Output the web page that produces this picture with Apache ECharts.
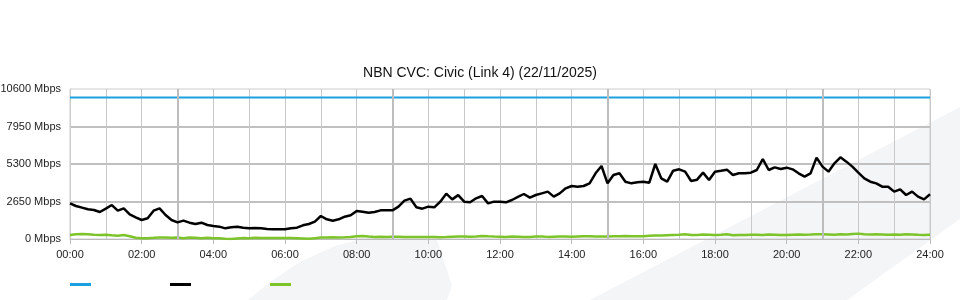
<!DOCTYPE html>
<html>
<head>
<meta charset="utf-8">
<script src="https://cdn.jsdelivr.net/npm/echarts@6/dist/echarts.min.js"></script>
<style>
html,body{margin:0;padding:0;background:#fff;}
#chart{width:960px;height:300px;}
</style>
</head>
<body>
<div id="chart"></div>
<script>
// ---- data ----
const titleText = 'NBN CVC: Civic (Link 4) (22/11/2025)';
const yTicks = [0, 2650, 5300, 7950, 10600];
const capacityMbps = 10000;
// 10-minute samples, 00:00 .. 24:00 (145 points)
const trafficIn = [
  2520, 2332, 2214, 2097, 2050, 1908,
  2144, 2400, 2000, 2167, 1743, 1531,
  1343, 1461, 2003, 2167, 1696, 1343,
  1178, 1296, 1154, 1060, 1154, 989,
  919, 872, 754, 825, 872, 801,
  754, 778, 754, 707, 683, 683,
  683, 754, 801, 966, 1060, 1225,
  1625, 1390, 1296, 1390, 1578, 1673,
  1979, 1932, 1861, 1908, 2026, 2026,
  2026, 2285, 2709, 2851, 2238, 2144,
  2285, 2238, 2638, 3200, 2800, 3100,
  2638, 2591, 2874, 3039, 2520, 2638,
  2638, 2591, 2756, 2970, 3180, 2921,
  3110, 3227, 3345, 2992, 3227, 3581,
  3745, 3698, 3745, 3934, 4641, 5159,
  3934, 4523, 4641, 4051, 3934, 4004,
  4051, 3981, 5300, 4287, 4051, 4829,
  4923, 4759, 4098, 4193, 4688, 4169,
  4759, 4829, 4900, 4523, 4641, 4641,
  4688, 4876, 5650, 4876, 5064, 4947,
  5041, 4923, 4641, 4405, 4640, 5750,
  5112, 4759, 5347, 5770, 5465, 5112,
  4688, 4287, 4051, 3934, 3698, 3698,
  3345, 3510, 3110, 3345, 2992, 2803,
  3157
];
const trafficOut = [
  283, 330, 353, 340, 300, 290,
  300, 260, 236, 280, 200, 90,
  60, 60, 80, 110, 100, 90,
  100, 60, 100, 90, 60, 80,
  60, 50, 20, 0, 40, 70,
  60, 80, 70, 70, 70, 70,
  70, 70, 60, 40, 10, 60,
  110, 110, 120, 110, 120, 140,
  200, 210, 170, 150, 160, 150,
  160, 160, 150, 140, 140, 150,
  150, 140, 130, 140, 160, 180,
  170, 160, 180, 220, 190, 170,
  165, 140, 170, 160, 140, 150,
  170, 180, 150, 160, 170, 180,
  160, 180, 200, 190, 170, 170,
  180, 190, 200, 210, 200, 190,
  200, 230, 250, 240, 270, 290,
  300, 330, 280, 290, 310, 300,
  280, 300, 330, 260, 290, 280,
  300, 300, 290, 310, 300, 290,
  290, 300, 310, 300, 310, 330,
  340, 320, 300, 330, 320, 350,
  380, 330, 310, 340, 320, 300,
  320, 300, 330, 320, 300, 290,
  300
];
const majorHours = ['03:00', '09:00', '15:00', '21:00'];

// ---- categories ----
const categories = [];
for (let i = 0; i <= 144; i++) {
  const m = i * 10;
  const hh = String(Math.floor(m / 60)).padStart(2, '0');
  const mm = String(m % 60).padStart(2, '0');
  categories.push(hh + ':' + mm);
}
const capacity = categories.map(() => capacityMbps);

const chart = echarts.init(document.getElementById('chart'), null, {renderer: 'canvas'});
const font = 'Liberation Sans, Arial, sans-serif';
chart.setOption({
  animation: false,
  backgroundColor: '#ffffff',
  graphic: [
    {
      type: 'polygon', z: -100, silent: true,
      shape: {points: [[590, 300], [960, 107], [960, 219], [847, 300]]},
      style: {fill: '#f4f5f7'}
    },
    {
      type: 'polygon', z: -100, silent: true,
      shape: {points: [[248, 300], [270, 282], [300, 262], [335, 246], [370, 237], [437, 240], [452, 285], [447, 300]]},
      style: {fill: '#f4f5f7'}
    }
  ],
  title: {
    text: titleText,
    left: 'center',
    top: 61,
    textStyle: {fontFamily: font, fontSize: 14, fontWeight: 'normal', color: '#111'}
  },
  legend: {
    left: 70,
    top: 283,
    padding: 0,
    icon: 'rect',
    itemWidth: 21,
    itemHeight: 3,
    itemGap: 79,
    formatter: function () { return ''; },
    data: ['Capacity', 'Traffic In', 'Traffic Out']
  },
  grid: {
    left: 70, right: 30, top: 89, bottom: 61,
    containLabel: false,
    outerBoundsMode: 'none',
    show: true, borderColor: '#cccccc', borderWidth: 1, backgroundColor: 'transparent'
  },
  xAxis: {
    type: 'category',
    data: categories,
    boundaryGap: false,
    axisLine: {show: true, lineStyle: {color: '#bbbbbb', width: 1}},
    axisTick: {show: true, interval: 11, length: 5, lineStyle: {color: '#bbbbbb'}},
    axisLabel: {interval: 11, margin: 10, fontFamily: font, fontSize: 11, color: '#222'},
    splitLine: {show: true, interval: 5, lineStyle: {color: '#c8c8c8', width: 1}}
  },
  yAxis: {
    type: 'value',
    min: 0, max: 10600, interval: 2650,
    axisLine: {show: true, lineStyle: {color: '#cccccc'}},
    axisTick: {show: false},
    axisLabel: {
      margin: 9, fontFamily: font, fontSize: 11, color: '#222',
      formatter: function (v) { return yTicks.indexOf(v) >= 0 ? v + ' Mbps' : ''; }
    },
    splitLine: {show: true, showMinLine: false, showMaxLine: false, lineStyle: {color: '#c0c0c0', width: 2}}
  },
  series: [
    {
      name: 'Capacity', type: 'line', data: capacity, showSymbol: false,
      lineStyle: {color: '#1ba1e2', width: 2}, itemStyle: {color: '#1ba1e2'}, z: 3,
      markLine: {
        silent: true, symbol: 'none', label: {show: false},
        lineStyle: {color: '#bdbdbd', width: 2, type: 'solid'},
        data: majorHours.map(h => ({xAxis: h}))
      }
    },
    {
      name: 'Traffic In', type: 'line', data: trafficIn, showSymbol: false,
      lineStyle: {color: '#000000', width: 2.5}, itemStyle: {color: '#000000'}, z: 5
    },
    {
      name: 'Traffic Out', type: 'line', data: trafficOut, showSymbol: false,
      lineStyle: {color: '#7cc42a', width: 2.5}, itemStyle: {color: '#7cc42a'}, z: 4
    }
  ]
});
</script>
</body>
</html>
